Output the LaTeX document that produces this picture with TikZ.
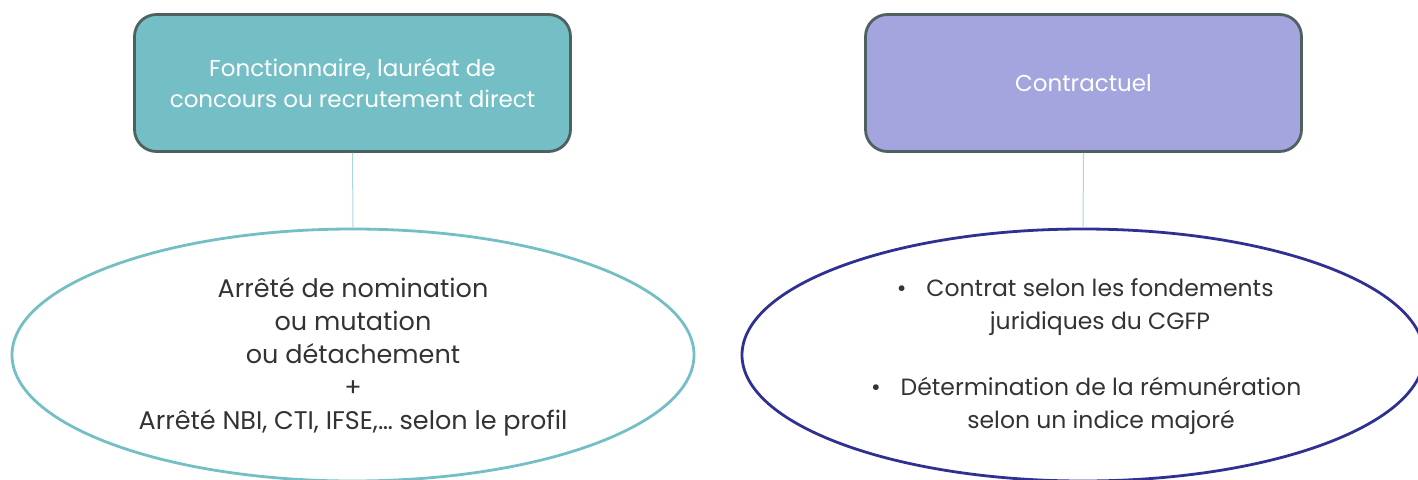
\documentclass[tikz,border=0pt]{standalone}
\usepackage{fontspec}
\setmainfont{Poppins}
\usetikzlibrary{shapes.geometric}
\definecolor{tealfill}{HTML}{74BFC5}
\definecolor{purplefill}{HTML}{A4A4DE}
\definecolor{boxborder}{HTML}{4F6060}
\definecolor{navy}{HTML}{2E3192}
\definecolor{linkc}{HTML}{A8D8DC}
\definecolor{txt}{HTML}{333333}
\begin{document}
\begin{tikzpicture}[x=1pt,y=-1pt,
  headbox/.style={draw=boxborder, line width=2.8pt, rounded corners=22pt,
    minimum width=436pt, minimum height=137pt, text=white, align=center,
    font=\fontsize{23}{31}\selectfont},
  oval/.style={ellipse, line width=2.8pt, minimum width=682pt, minimum height=252pt, inner sep=0pt},
  body/.style={text=txt, align=center, font=\fontsize{25.5}{33}\selectfont},
  bodyr/.style={text=txt, align=center, font=\fontsize{23.5}{33}\selectfont},
  link/.style={draw=linkc, line width=1pt}]
\useasboundingbox (0,0) rectangle (1418,479);
\clip (0,0) rectangle (1418,479);
\node[headbox, fill=tealfill] (fonc) at (352.5,83) {Fonctionnaire, lauréat de\\concours ou recrutement direct};
\node[headbox, fill=purplefill] (contr) at (1083.5,83) {Contractuel};
\node[oval, draw=tealfill] (ovl) at (353,355) {};
\node[oval, draw=navy] (ovr) at (1083,355) {};
\draw[link] (fonc.south) -- (ovl.north);
\draw[link] (contr.south) -- (ovr.north);
\node[body] (tl) at (353,357) {Arrêté de nomination\\ou mutation\\ou détachement\\+\\Arrêté NBI, CTI, IFSE,… selon le profil};
\node[bodyr] (i1) at (1100,307) {\llap{•\hspace{20pt}}Contrat selon les fondements\\juridiques du CGFP};
\node[bodyr] (i2) at (1101,406) {\llap{•\hspace{20pt}}Détermination de la rémunération\\selon un indice majoré};
\end{tikzpicture}
\end{document}
